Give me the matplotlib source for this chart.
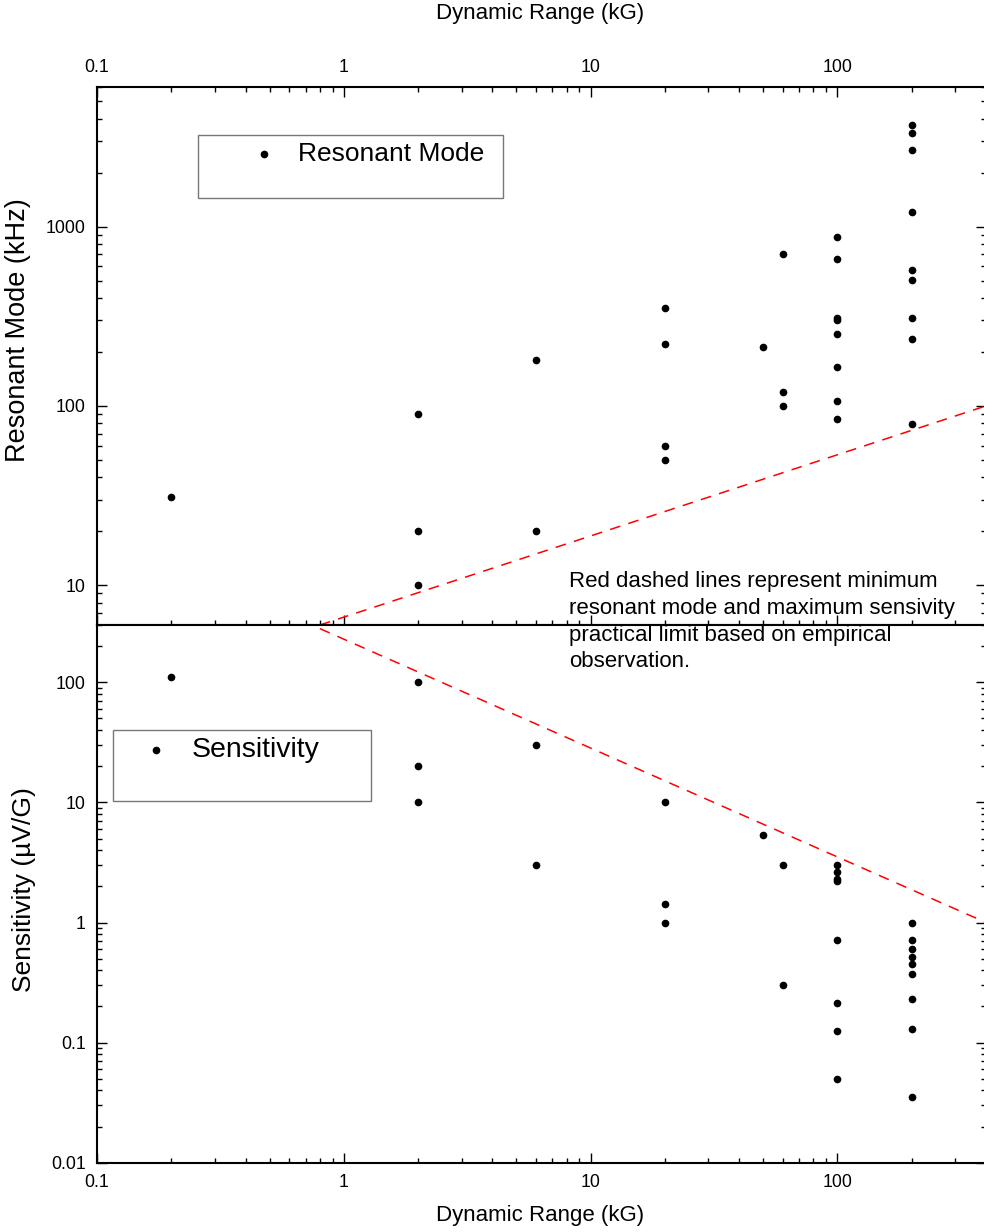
import matplotlib
matplotlib.use('Agg')
import matplotlib.pyplot as plt
from matplotlib.ticker import LogLocator, FuncFormatter, NullFormatter
from matplotlib.patches import Rectangle
from matplotlib.lines import Line2D

plt.rcParams['font.family'] = ['Liberation Sans', 'DejaVu Sans']

# ---------------- data ----------------
res_range = [0.2, 2, 2, 2, 6, 6, 20, 20, 20, 20, 50, 60, 60, 60,
             100, 100, 100, 100, 100, 100, 100, 100,
             200, 200, 200, 200, 200, 200, 200, 200, 200]
res_mode = [31, 90, 20, 10, 180, 20, 350, 220, 60, 50, 213, 700, 120, 100,
            875, 656, 310, 300, 253, 164, 107, 84,
            3680, 3335, 2660, 1200, 573, 504, 311, 236, 79]

sens_range = [0.2, 2, 2, 2, 6, 6, 20, 20, 20, 50, 60, 60,
              100, 100, 100, 100, 100, 100, 100, 100,
              200, 200, 200, 200, 200, 200, 200, 200, 200]
sens_val = [110, 100, 20, 10, 30, 3, 10, 1.43, 1.0, 5.4, 3.0, 0.30,
            3.0, 2.65, 2.3, 2.2, 0.72, 0.214, 0.126, 0.050,
            1.0, 0.71, 0.60, 0.52, 0.45, 0.37, 0.23, 0.13, 0.035]

limit_x = [0.8, 400]
res_limit = [6.0, 100]
sens_limit = [280, 1.0]

x_lim = (0.1, 400)
res_ylim = (6, 6000)
sens_ylim = (0.01, 300)

# ---------------- figure ----------------
W, H = 984, 1232
fig = plt.figure(figsize=(W / 100, H / 100), dpi=100)

def fx(px):
    return px / W

def fy(py):
    return 1 - py / H

left, right = 97, 986
top1, mid, bot2 = 87, 625, 1162.7
ax1 = fig.add_axes([fx(left), fy(mid), fx(right - left), (mid - top1) / H])
ax2 = fig.add_axes([fx(left), fy(bot2), fx(right - left), (bot2 - mid) / H])

fmt = FuncFormatter(lambda v, p: f'{v:g}')
for ax in (ax1, ax2):
    ax.set_xscale('log')
    ax.set_yscale('log')
    ax.set_xlim(*x_lim)
    for s in ax.spines.values():
        s.set_linewidth(1.5)
    ax.xaxis.set_major_locator(LogLocator(base=10))
    ax.xaxis.set_minor_locator(LogLocator(base=10, subs=range(2, 10)))
    ax.yaxis.set_major_locator(LogLocator(base=10))
    ax.yaxis.set_minor_locator(LogLocator(base=10, subs=range(2, 10)))
    ax.xaxis.set_major_formatter(fmt)
    ax.yaxis.set_major_formatter(fmt)
    ax.xaxis.set_minor_formatter(NullFormatter())
    ax.yaxis.set_minor_formatter(NullFormatter())
    ax.tick_params(which='major', direction='in', length=7.2, width=1.0,
                   labelsize=12.8, pad=8)
    ax.tick_params(which='minor', direction='in', length=3.6, width=1.0)

ax1.set_ylim(*res_ylim)
ax2.set_ylim(*sens_ylim)

ax1.tick_params(which='both', top=True, bottom=True, left=True, right=True,
                labeltop=True, labelbottom=False)
ax2.tick_params(which='both', top=False, bottom=True, left=True, right=True)

# data
ax1.plot(res_range, res_mode, 'o', color='black', ms=4.5, ls='none', zorder=3)
ax2.plot(sens_range, sens_val, 'o', color='black', ms=4.5, ls='none', zorder=3)
ax1.plot(limit_x, res_limit, color='red', lw=1.1, dashes=(7, 5.5), zorder=2)
ax2.plot(limit_x, sens_limit, color='red', lw=1.1, dashes=(7, 5.5), zorder=2)

# labels
ax1.xaxis.set_label_position('top')
ax1.set_xlabel('Dynamic Range (kG)', fontsize=16)
ax1.xaxis.set_label_coords((540 - left) / (right - left), 1 + (top1 - 14) / (mid - top1))
ax1.xaxis.label.set_va('center')
ax2.set_xlabel('Dynamic Range (kG)', fontsize=16)
ax2.xaxis.set_label_coords((540 - left) / (right - left), -(1215 - bot2) / (bot2 - mid))
ax2.xaxis.label.set_va('center')

ax1.set_ylabel('Resonant Mode (kHz)', fontsize=19.5)
ax1.yaxis.set_label_coords(-(left - 18) / (right - left), (mid - 330) / (mid - top1))
ax1.yaxis.label.set_va('center')
ax2.set_ylabel('Sensitivity (\u00b5V/G)', fontsize=19)
ax2.yaxis.set_label_coords(-(left - 24) / (right - left), (bot2 - 890) / (bot2 - mid))
ax2.yaxis.label.set_va('center')

# legend-style boxes
def legend_box(x0, y0, x1, y1, mx, my, tx, label, size):
    fig.add_artist(Rectangle((fx(x0), fy(y1)), fx(x1 - x0), (y1 - y0) / H,
                             transform=fig.transFigure, fill=False,
                             edgecolor='#777777', lw=1.0, zorder=5))
    fig.add_artist(Line2D([fx(mx)], [fy(my)], marker='o', color='black', ms=4.5,
                          ls='none', transform=fig.transFigure, zorder=5))
    fig.text(fx(tx), fy(my), label, fontsize=size, ha='left', va='center', zorder=5)

legend_box(198, 135, 503, 198, 264, 154, 298, 'Resonant Mode', 19)
legend_box(113, 730, 371, 801, 156, 750, 192, 'Sensitivity', 20.5)

fig.text(fx(569), fy(571),
         'Red dashed lines represent minimum\nresonant mode and maximum sensivity\n'
         'practical limit based on empirical\nobservation.',
         fontsize=16, ha='left', va='top', linespacing=1.36, zorder=6)

fig.savefig('out.png', dpi=100)
